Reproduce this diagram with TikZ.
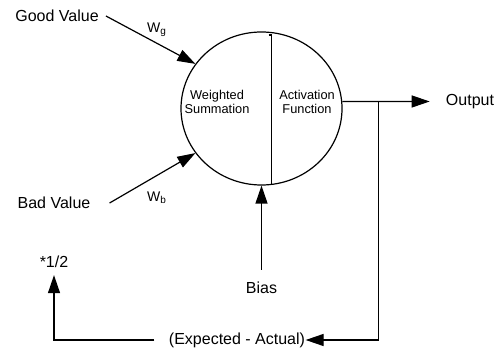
\documentclass[tikz,border=0pt]{standalone}
\usepackage{fontspec}
\setmainfont{Liberation Sans}
\usetikzlibrary{arrows.meta,shapes.geometric}

\begin{document}
\begin{tikzpicture}[x=0.5pt,y=-0.5pt,line width=0.6pt,
  every node/.style={font=\fontsize{8}{9.6}\selectfont},
  flow/.style={-{Triangle[length=9pt,width=6pt]}},
  inner/.style={align=center,font=\fontsize{6.4}{6.8}\selectfont},
  weight/.style={font=\fontsize{7}{8}\selectfont}]
\useasboundingbox (0,0) rectangle (501,351);

\node[draw,ellipse,minimum width=80.5pt,minimum height=76.5pt,inner sep=0pt] (neuron) at (261.5,108.5) {};
\draw (268.5,35) -- (271.5,35) -- (271.5,184.5);
\node[inner] (sum) at (217,102) {Weighted\\Summation};
\node[inner] (act) at (307,102) {Activation\\Function};

\node (good) at (57,16) {Good Value};
\node (bad) at (54,203) {Bad Value};
\node (bias) at (261.5,288) {Bias};
\node (out) at (470,101.5) {Output};
\node (half) at (54,262) {*1/2};
\node[inner sep=0pt] (err) at (237,340) {(Expected - Actual)};
\node[weight] (wg) at (157,30) {W\textsubscript{g}};
\node[weight] (wb) at (157,198) {W\textsubscript{b}};
\coordinate (split) at (378.5,101.5);

\draw[flow] (good.east) -- (neuron.146);
\draw[flow] ([xshift=6pt]bad.east) -- (neuron.214);
\draw[flow] ([yshift=2.5pt]bias.north) -- (neuron.south);
\draw[flow] (neuron.5) -- ([xshift=-4.5pt]out.west);
\draw[flow] (split) |- (err.east);
\draw[flow] ([xshift=-7pt]err.west) -| (half.south);
\end{tikzpicture}
\end{document}
